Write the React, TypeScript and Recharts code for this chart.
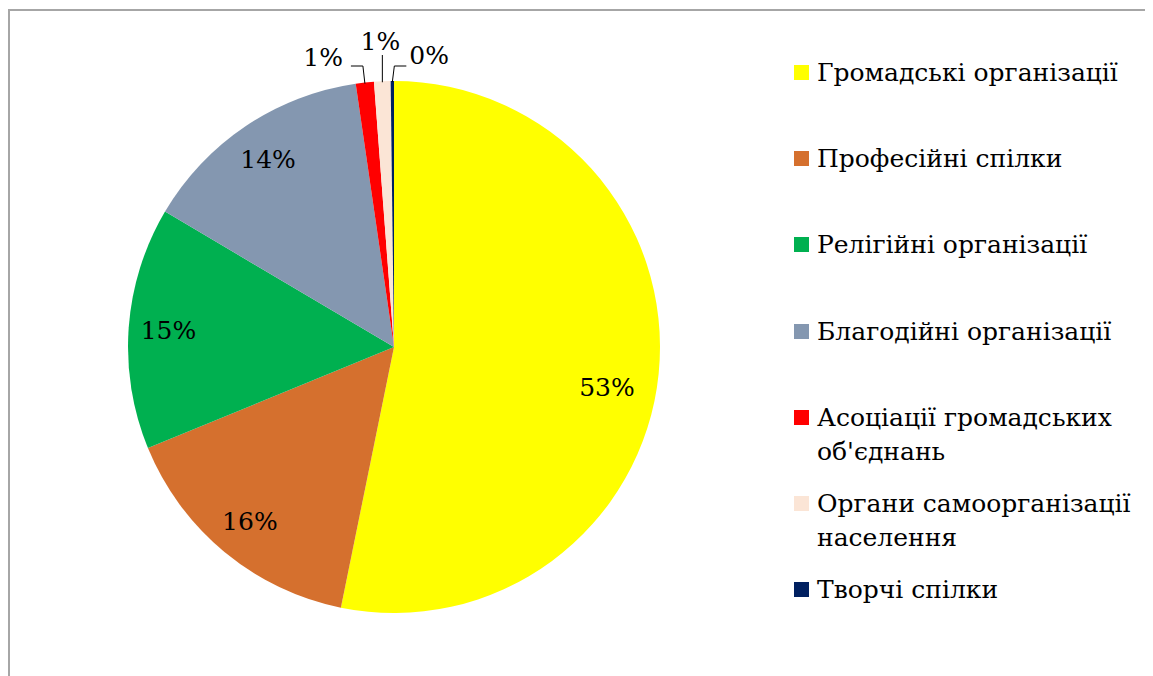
import React from 'react';
import { PieChart, Pie, Cell, Legend } from 'recharts';

const categories = [
  'Громадські організації',
  'Професійні спілки',
  'Релігійні організації',
  'Благодійні організації',
  "Асоціації громадських об'єднань",
  'Органи самоорганізації населення',
  'Творчі спілки',
];
const values = [53.2, 15.6, 14.7, 14.2, 1.1, 1.0, 0.2];
const colors = ['#FFFF00', '#D5702E', '#00B050', '#8497B0', '#FF0000', '#FBE5D6', '#002060'];

const data = categories.map((name, i) => ({ name, value: values[i] }));

const FONT = "'DejaVu Serif', 'Liberation Serif', serif";
const FS = 25;
const RAD = Math.PI / 180;

const renderLabel = (props: any) => {
  const { cx, cy, midAngle, outerRadius, percent, index } = props;
  const text = `${Math.round(percent * 100)}%`;
  if (index <= 3) {
    const ang = percent > 0.5 ? midAngle - 5 : midAngle;
    const r = outerRadius * (percent > 0.5 ? 0.815 : 0.85);
    const x = cx + r * Math.cos(-ang * RAD);
    const y = cy + r * Math.sin(-ang * RAD);
    return (
      <text x={x} y={y} textAnchor="middle" dominantBaseline="central" fontFamily={FONT} fontSize={FS} fill="#000">
        {text}
      </text>
    );
  }
  const sx = cx + (outerRadius - 1) * Math.cos(-midAngle * RAD);
  const sy = cy + (outerRadius - 1) * Math.sin(-midAngle * RAD);
  const top = cy - outerRadius;
  if (index === 4) {
    const ey = top - 15;
    return (
      <g>
        <polyline points={`${sx},${sy} ${sx - 2},${ey} ${sx - 14},${ey}`} fill="none" stroke="#000" strokeWidth={1} />
        <text x={sx - 22} y={top - 24} textAnchor="end" dominantBaseline="central" fontFamily={FONT} fontSize={FS} fill="#000">
          {text}
        </text>
      </g>
    );
  }
  if (index === 5) {
    const ey = top - 26;
    return (
      <g>
        <polyline points={`${sx},${sy} ${sx},${ey}`} fill="none" stroke="#000" strokeWidth={1} />
        <text x={sx - 2} y={top - 40} textAnchor="middle" dominantBaseline="central" fontFamily={FONT} fontSize={FS} fill="#000">
          {text}
        </text>
      </g>
    );
  }
  const ey = top - 15;
  return (
    <g>
      <polyline points={`${sx},${sy} ${sx + 2},${ey} ${sx + 14},${ey}`} fill="none" stroke="#000" strokeWidth={1} />
      <text x={sx + 17} y={top - 26} textAnchor="start" dominantBaseline="central" fontFamily={FONT} fontSize={FS} fill="#000">
        {text}
      </text>
    </g>
  );
};

const renderLegend = () => (
  <div style={{ position: 'relative', width: 363, height: 640, fontFamily: FONT, fontSize: FS, color: '#000' }}>
    {categories.map((name, i) => {
      const center = 62 + i * 86.2;
      return (
        <div key={name} style={{ position: 'absolute', left: 0, top: center - 17, width: 363 }}>
          <div style={{ position: 'absolute', left: 4, top: 9, width: 15, height: 15, background: colors[i] }} />
          <div style={{ marginLeft: 27, width: 336, lineHeight: '34px' }}>{name}</div>
        </div>
      );
    })}
  </div>
);

export default function App() {
  return (
    <div
      style={{
        marginTop: 1,
        width: 1145,
        height: 667,
        borderTop: '2px solid #a6a6a6',
        borderLeft: '2px solid #a6a6a6',
        boxSizing: 'border-box',
        overflow: 'hidden',
        background: '#fff',
      }}
    >
      <PieChart width={1143} height={665} margin={{ top: 0, right: 0, bottom: 0, left: 0 }}>
        <Pie
          data={data}
          dataKey="value"
          nameKey="name"
          cx={384}
          cy={336}
          outerRadius={266}
          startAngle={90}
          endAngle={-270}
          stroke="none"
          label={renderLabel}
          labelLine={false}
          isAnimationActive={false}
        >
          {data.map((d, i) => (
            <Cell key={d.name} fill={colors[i]} />
          ))}
        </Pie>
        <Legend
          content={renderLegend}
          layout="vertical"
          align="right"
          verticalAlign="middle"
          wrapperStyle={{ position: 'absolute', left: 780, top: 0, width: 363, height: 640 }}
        />
      </PieChart>
    </div>
  );
}
